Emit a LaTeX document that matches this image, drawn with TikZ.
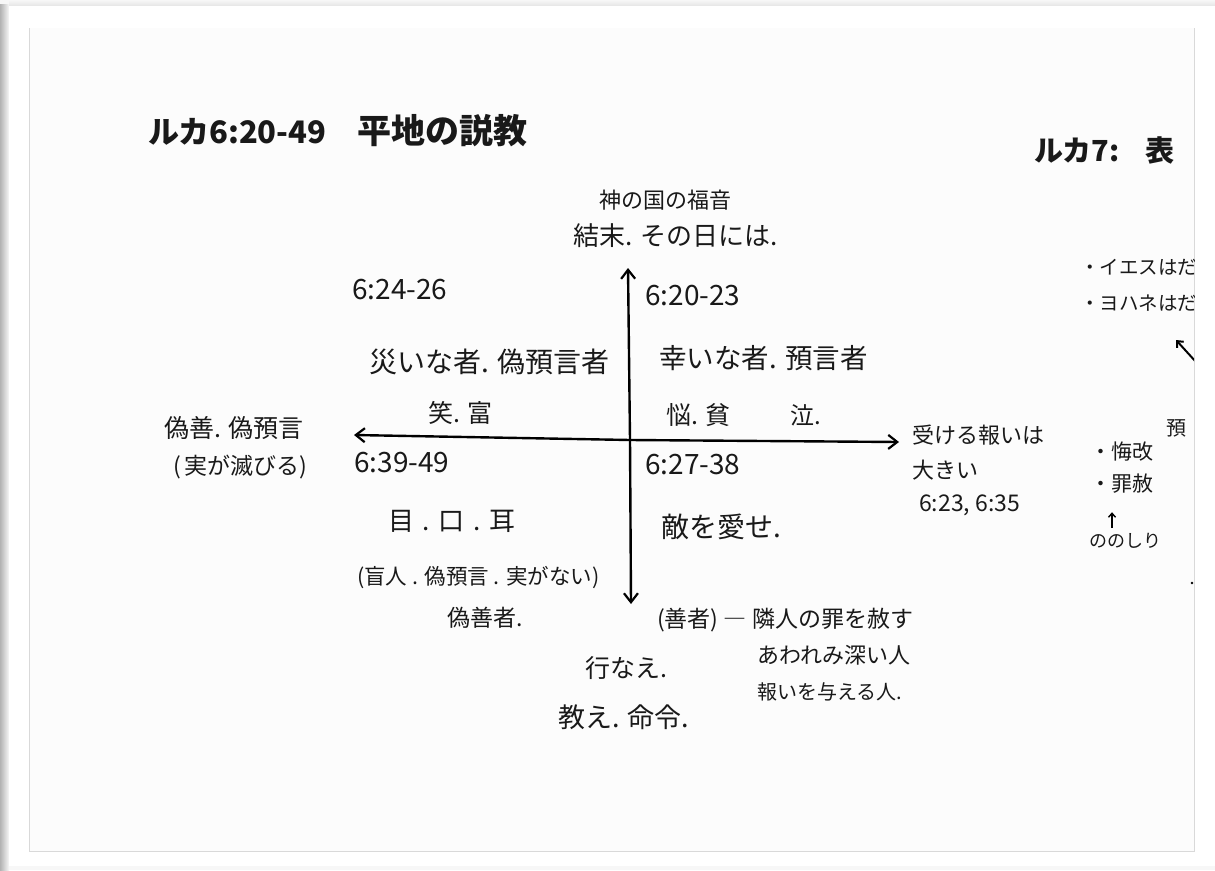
\documentclass[tikz,border=0pt]{standalone}
\usepackage{fontspec}
\usetikzlibrary{arrows.meta}
\newfontfamily\jp{Noto Sans CJK JP}
\begin{document}
\begin{tikzpicture}[x=1pt,y=-1pt,
  txt/.style={font=\jp\fontsize{#1}{#1}\selectfont, anchor=west, inner sep=0pt, text=black!90},
  axis/.style={line width=2.4pt, -{Straight Barb[length=9pt,width=14pt,line width=2.2pt]}}]
\useasboundingbox (0,0) rectangle (1215,870);
\fill[black!3] (0,0) rectangle (1215,870);
% card shadow and card
\shade[left color=black!30, right color=black!3] (0,4) rectangle (9,870);
\shade[top color=black!3, bottom color=black!10] (9,0) rectangle (1215,6);
\fill[white] (9,6) rectangle (1215,866);
% photo area
\fill[black!1] (29,28) rectangle (1194,851);
\draw[black!15, line width=1pt] (29,28) -- (29,851) -- (1194,851) -- (1194,28);
% title
\node[txt=31, font=\jp\bfseries\fontsize{31}{31}\selectfont] (title1) at (148,132) {ルカ6:20-49};
\node[txt=34, font=\jp\bfseries\fontsize{34}{34}\selectfont] (title2) at (357,131) {平地の説教};
% axes
\coordinate (top) at (628,268);
\coordinate (bot) at (631,604);
\coordinate (lft) at (354,435);
\coordinate (rgt) at (899,442);
\draw[axis] (630,440) -- (top);
\draw[axis] (630,440) -- (bot);
\draw[axis] (630,440) -- (lft);
\draw[axis] (630,440) -- (rgt);
% top labels
\node[txt=22] (kami) at (599,200) {神の国の福音};
\node[txt=26] (ketsu) at (573,236) {結末. その日には.};
% upper left
\node[txt=28] (r1) at (352,290) {6:24-26};
\node[txt=28] (wazawai) at (369,362) {災いな者. 偽預言者};
\node[txt=25] (warai) at (428,413) {笑. 富};
% upper right
\node[txt=28] (r2) at (645,296) {6:20-23};
\node[txt=27.5] (saiwai) at (659,358) {幸いな者. 預言者};
\node[txt=25] (naya) at (666,415) {悩. 貧};
\node[txt=24] (naku) at (790,415) {泣.};
% left
\node[txt=25] (gizen) at (164,428) {偽善. 偽預言};
\node[txt=23] (mi) at (173,467) {(\,実が滅びる)};
% right
\node[txt=22] (ukeru) at (912,435) {受ける報いは};
\node[txt=22] (ooki) at (912,470) {大きい};
\node[txt=23] (r5) at (919,505) {6:23, 6:35};
% lower left
\node[txt=28] (r3) at (354,463) {6:39-49};
\node[txt=26] (me) at (388,521) {目\,\,.\,\,口\,\,.\,\,耳};
\node[txt=21.5] (mou) at (357,578) {(盲人 . 偽預言 . 実がない)};
\node[txt=23] (gizensha) at (447,618) {偽善者.};
% lower right
\node[txt=28] (r4) at (645,465) {6:27-38};
\node[txt=28] (teki) at (661,527) {敵を愛せ.};
\node[txt=23] (zensha) at (657,620) {(善者) ― 隣人の罪を赦す};
\node[txt=22] (awa) at (757,655) {あわれみ深い人};
\node[txt=20] (mukui) at (757,692) {報いを与える人.};
% bottom
\node[txt=25] (okonae) at (585,668) {行なえ.};
\node[txt=27] (oshie) at (558,717) {教え. 命令.};
% right cut-off part
\begin{scope}
\clip (29,28) rectangle (1194,851);
\node[txt=29, font=\jp\bfseries\fontsize{29}{29}\selectfont] (luke7) at (1034,150) {ルカ7:\hspace{26pt}表};
\node[txt=19.5] (iesu) at (1080,267) {・イエスはだ};
\node[txt=19.5] (yohane) at (1080,303) {・ヨハネはだ};
\coordinate (ua) at (1196,362);
\coordinate (ub) at (1176,340);
\draw[line width=2pt, -{Straight Barb[length=5pt,width=9pt]}] (ua) -- (ub);
\node[txt=20] (yo) at (1166,428) {預};
\node[txt=21] (kuiaratame) at (1090,452) {・悔改};
\node[txt=21] (tsumi) at (1090,484) {・罪赦};
\node[txt=18] (nono) at (1089,541) {ののしり};
\draw[line width=1.4pt, -{Straight Barb[length=4pt,width=7pt]}] (nono.north -| 1112,0) ++(0,-5) -- ++(0,-16);
\fill (1192,583) circle (1.3);
\end{scope}
\end{tikzpicture}
\end{document}
